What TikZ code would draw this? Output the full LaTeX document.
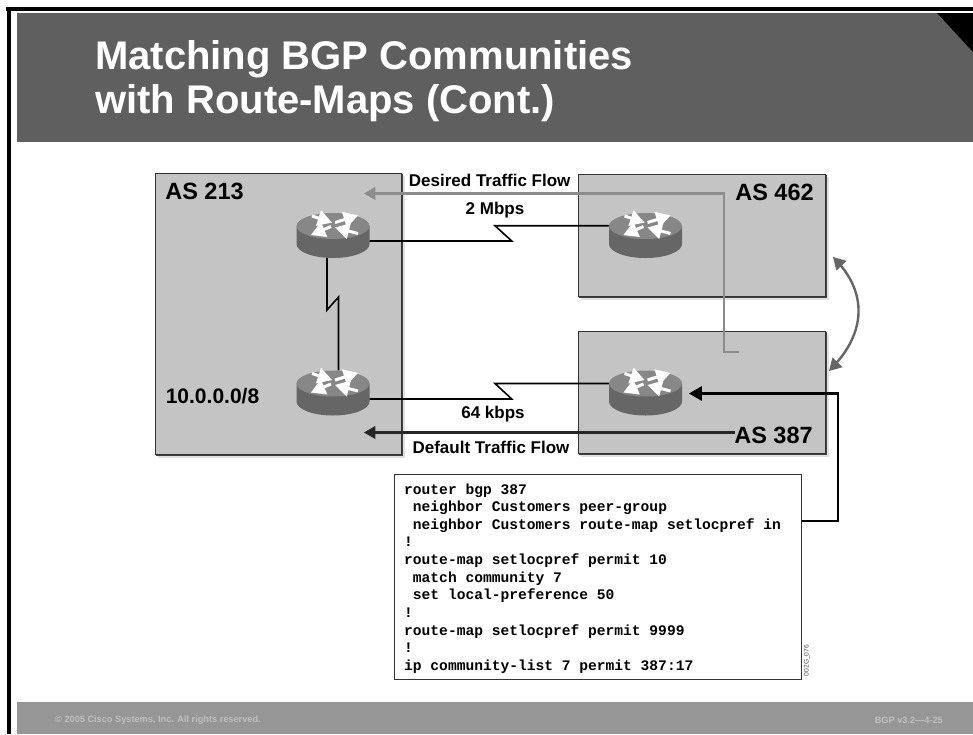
\documentclass[tikz,border=0pt]{standalone}
\usepackage{fontspec}
\setmainfont{Liberation Sans}
\setmonofont{Liberation Mono}
\usetikzlibrary{arrows}
\usetikzlibrary{positioning}
\definecolor{headgray}{HTML}{5F5F5F}
\definecolor{footgray}{HTML}{969696}
\definecolor{boxgray}{HTML}{C4C4C4}
\definecolor{flowgray}{HTML}{8C8C8C}
\tikzset{
	asbox/.style={draw=black!80, line width=1pt, fill=boxgray, minimum width=#1, inner sep=0pt, anchor=north west},
	routerbox/.style={minimum width=73pt, minimum height=45pt, inner sep=0pt},
	routerarrow/.style={->, draw=white, line width=3pt},
	link/.style={draw=black, line width=1.6pt},
	aslabel/.style={font=\bfseries\fontsize{23.5}{23.5}\selectfont, inner sep=0pt},
	flowlabel/.style={font=\bfseries\fontsize{17}{17}\selectfont, inner sep=0pt},
	codeline/.style={font=\ttfamily\bfseries\fontsize{14.6}{14.6}\selectfont, inner sep=0pt, anchor=base west},
	titleline/.style={anchor=base west, inner sep=0pt, text=white, font=\bfseries\fontsize{40}{40}\selectfont},
	footline/.style={inner sep=0pt, text=black!25, font=\bfseries\fontsize{9.2}{9.2}\selectfont}
}
% one router, centre of the body at the current origin
\newcommand{\routericon}{
	\fill[black!60] (-36.5,-9.5) -- (-36.5,8.5) arc[start angle=180, end angle=0, x radius=36.5, y radius=14] -- (36.5,-9.5) -- cycle;
	\fill[black!47] (0,-9.5) ellipse[x radius=36.5, y radius=13];
	\draw[routerarrow] (-21,-19.5) -- (-1,-13);
	\draw[routerarrow] (2,-13) -- (25,-20);
	\draw[routerarrow] (-2,-9) -- (-22,-0.5);
	\draw[routerarrow] (25,-2) -- (2,-8);
}
\begin{document}
\begin{tikzpicture}[x=1pt, y=-1pt, >=triangle 60]
	\useasboundingbox (0,0) rectangle (973,734);
	\fill[white] (0,0) rectangle (973,734);
	% frame, title and footer bars
	\fill[black] (6,7) rectangle (973,11);
	\fill[black] (7,7) rectangle (11,734);
	\fill[headgray] (17,13) rectangle (973,142);
	\fill[black] (937,13) -- (973,13) -- (973,52) -- cycle;
	\fill[footgray] (17,702) rectangle (973,734);
	\node[titleline] (TitleA) at (95,69) {Matching BGP Communities};
	\node[titleline] (TitleB) at (95,113) {with Route-Maps (Cont.)};
	\node[footline, anchor=west] (Copy) at (55,720) {© 2005 Cisco Systems, Inc. All rights reserved.};
	\node[footline, anchor=east] (Page) at (943,720) {BGP v3.2—4-25};
	% autonomous systems
	\fill[black!12] (158,176) rectangle (404.5,457.5);
	\fill[black!12] (581,177) rectangle (828.5,299.5);
	\fill[black!12] (581,334) rectangle (828.5,456.5);
	\fill[black!75] (156,174) rectangle (402.5,455.5);
	\fill[black!75] (579,175) rectangle (826.5,297.5);
	\fill[black!75] (579,332) rectangle (826.5,454.5);
	\node[asbox=246pt, minimum height=281pt] (AS213) at (155,173) {};
	\node[asbox=247pt, minimum height=122pt] (AS462) at (578,174) {};
	\node[asbox=247pt, minimum height=122pt] (AS387) at (578,331) {};
	\node[aslabel] (LabA) at (204.5,191.5) {AS 213};
	\node[aslabel] (LabB) at (774.5,192) {AS 462};
	\node[aslabel] (LabC) at (773.5,435) {AS 387};
	\node[aslabel, font=\bfseries\fontsize{21}{21}\selectfont] (Net) at (212.5,396.5) {10.0.0.0/8};
	% routers
	\foreach \name/\x/\y in {RA/333/235.5, RB/333/393, RC/645.5/235.5, RD/645.5/393} {
		\node[routerbox] (\name) at (\x,\y) {};
		\begin{scope}[shift={(\x,\y)}]
			\routericon
		\end{scope}
	}
	% serial links
	\coordinate (ZAa) at (511.7,241);
	\coordinate (ZAb) at (495,225.7);
	\coordinate (ZBa) at (511.7,399);
	\coordinate (ZBb) at (495,383.5);
	\coordinate (ZCa) at (327,310);
	\coordinate (ZCb) at (338.5,297);
	\draw[link] (RA.east |- ZAa) -- (ZAa) -- (ZAb) -- (ZAb -| RC.west);
	\draw[link] (RB.east |- ZBa) -- (ZBa) -- (ZBb) -- (ZBb -| RD.west);
	\draw[link] (ZCa |- RA.south) -- (ZCa) -- (ZCb) -- (ZCb |- RB.north);
	\node[flowlabel] (Fast) at (495,210) {2 Mbps};
	\node[flowlabel] (Slow) at (493,414) {64 kbps};
	% traffic flows
	\node[flowlabel] (Desired) at (489.7,180.5) {Desired Traffic Flow};
	\node[flowlabel] (Default) at (491,447) {Default Traffic Flow};
	\coordinate (DesFrom) at (739,352);
	\coordinate (DesBend) at (724,352);
	\coordinate (DesTo) at (364,193.5);
	\coordinate (DefFrom) at (735,432.5);
	\coordinate (DefTo) at (364,432.5);
	\draw[->, draw=flowgray, line width=2.2pt] (DesFrom) -- (DesBend) -- (DesBend |- DesTo) -- (DesTo);
	\draw[->, draw=black!85, line width=2.2pt] (DefFrom) -- (DefTo);
	% configuration
	\node[draw=black!80, fill=white, line width=1pt, minimum width=407pt, minimum height=205.5pt, inner sep=0pt, anchor=north west] (Config) at (393.5,473.5) {};
	\node[codeline] (LineA) at (404,494) {router bgp 387};
	\foreach \i/\txt in {1/{\ neighbor Customers peer-group}, 2/{\ neighbor Customers route-map setlocpref in}, 3/!, 4/{route-map setlocpref permit 10}, 5/{\ match community 7}, 6/{\ set local-preference 50}, 7/!, 8/{route-map setlocpref permit 9999}, 9/!, 10/{ip community-list 7 permit 387:17}} {
		\node[codeline] (Line\i) at (404,494+17.65*\i) {\txt};
	}
	\node[rotate=90, inner sep=0pt, text=black!70, font=\fontsize{6.7}{6.7}\selectfont] (Code) at (807,660.5) {002G\_076};
	\coordinate (Bus) at (838,521);
	\coordinate (RouterIn) at (689,393.5);
	\draw[->, line width=2.6pt] (Config.east |- Bus) -- (Bus) -- (Bus |- RouterIn) -- (RouterIn);
	% ibgp arrow
	\coordinate (PeerTop) at (833,257);
	\coordinate (PeerBot) at (829,371);
	\draw[<->, draw=black!60, line width=2.4pt] (PeerTop) .. controls (867,292) and (867,332) .. (PeerBot);
\end{tikzpicture}
\end{document}
